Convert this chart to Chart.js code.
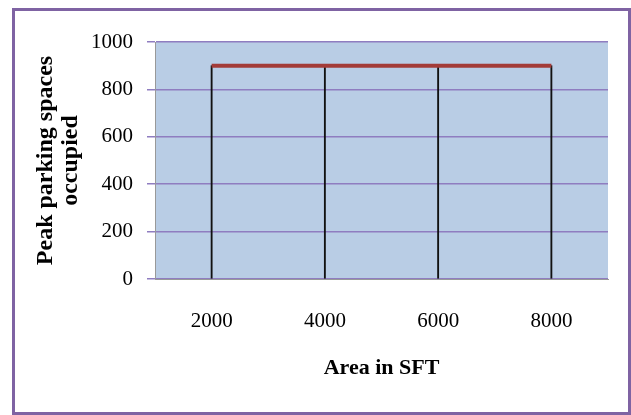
<!DOCTYPE html>
<html>
<head>
<meta charset="utf-8">
<script src="https://cdn.jsdelivr.net/npm/chart.js@4"></script>
<style>
  body { margin: 0; background: #fff; }
  #frame {
    position: absolute; left: 12px; top: 8px;
    width: 613px; height: 401px;
    border: 3px solid #7f63a3; background: #fff;
  }
</style>
</head>
<body>
<div id="frame"><canvas id="chart" width="613" height="401"></canvas></div>
<script>
// data
const AREAS = ['2000', '4000', '6000', '8000'];
const PEAK_SPACES = [900, 900, 900, 900];
const Y_TICKS = [0, 200, 400, 600, 800, 1000];

// light blue plot background
const plotBg = {
    id: 'plotBg',
    beforeDraw(chart) {
        const { ctx, chartArea: a } = chart;
        ctx.save();
        ctx.fillStyle = '#b9cde5';
        ctx.fillRect(a.left, a.top, a.right - a.left, a.bottom - a.top);
        ctx.restore();
    }
};

const ctx = document.getElementById('chart').getContext('2d');
new Chart(ctx, {
    type: 'bar',
    data: {
        labels: AREAS,
        datasets: [{
            type: 'line',
            label: 'Peak parking spaces occupied',
            data: PEAK_SPACES,
            borderColor: '#a33b38',
            borderWidth: 4,
            pointRadius: 0,
            order: 0
        }, {
            // drop lines
            label: 'drop',
            data: PEAK_SPACES,
            backgroundColor: '#111',
            barThickness: 1.2,
            order: 1
        }]
    },
    options: {
        responsive: false,
        animation: false,
        layout: { padding: { left: 18, right: 20, top: 31, bottom: 0 } },
        plugins: { legend: { display: false }, tooltip: { enabled: false } },
        scales: {
            x: {
                grid: { display: false },
                border: { color: '#999' },
                ticks: { color: '#000', padding: 22, font: { family: 'Liberation Serif', size: 21 } },
                title: {
                    display: true, text: 'Area in SFT', color: '#000',
                    padding: { top: 0, bottom: 30 },
                    font: { family: 'Liberation Serif', size: 22, weight: 'bold' }
                },
                afterFit: s => { s.height = 133; }
            },
            y: {
                min: 0, max: 1000,
                afterBuildTicks: s => { s.ticks = Y_TICKS.map(v => ({ value: v })); },
                grid: { color: '#8f7dc0', lineWidth: 1.5, tickLength: 8 },
                border: { color: '#999' },
                ticks: {
                    color: '#000', padding: 14,
                    font: { family: 'Liberation Serif', size: 21 },
                    callback: v => String(v)
                },
                title: {
                    display: true, text: ['Peak parking spaces', 'occupied'], color: '#000',
                    padding: 0,
                    font: { family: 'Liberation Serif', size: 24, weight: 'bold', lineHeight: 1.05 }
                },
                afterFit: s => { s.width = 122; }
            }
        }
    },
    plugins: [plotBg]
});
</script>
</body>
</html>
